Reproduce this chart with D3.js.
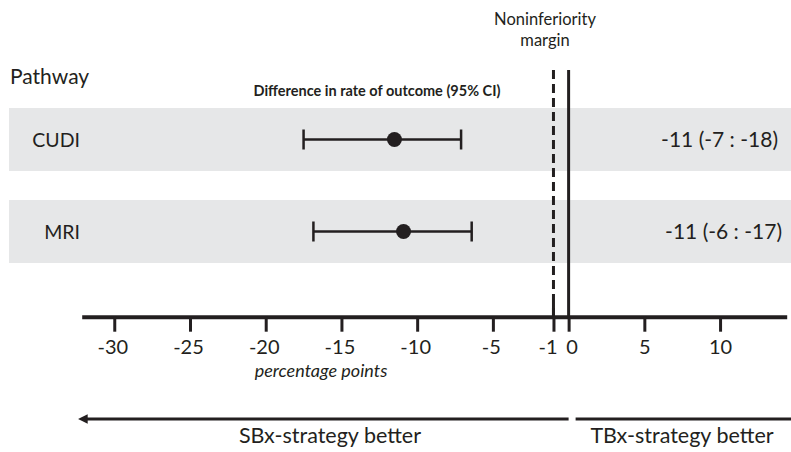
<!DOCTYPE html>
<html>
<head>
<meta charset="utf-8">
<script src="https://cdn.jsdelivr.net/npm/d3@7"></script>
<style>
  html, body { margin: 0; padding: 0; background: #fff; }
  svg { display: block; font-family: Lato, "Open Sans", sans-serif; }
</style>
</head>
<body>
<svg id="chart" width="791" height="452"></svg>
<script>
// ---- data ----
const pathways = ["CUDI", "MRI"];
const estimates = [-11.5, -10.9];
const lowerCI = [-17.5, -16.85];
const upperCI = [-7.1, -6.4];
const ciLabels = ["-11 (-7 : -18)", "-11 (-6 : -17)"];
const tickValues = [-30, -25, -20, -15, -10, -5, -1, 0, 5, 10];
const margin = -1;
const axisDomain = [-32.15, 14.4];

// ---- layout ----
const ink = "#231f20";
const svg = d3.select("#chart");
const W = 791;
const axisY = 316.7;

const x = d3.scaleLinear().domain(axisDomain).range([81.7, 786.7]);
const y = d3.scaleBand().domain(pathways).range([108, 263]).paddingInner(29 / 92).paddingOuter(0);
const rowY = d => y(d);
const rowH = y.bandwidth();

// gray bands
svg.append("g").selectAll("rect").data(pathways).join("rect")
  .attr("x", 9).attr("y", d => rowY(d)).attr("width", W - 9).attr("height", rowH)
  .attr("fill", "#e6e7e8");

// headers
svg.append("text").attr("x", 10).attr("y", 84).attr("font-size", 21).attr("fill", ink).text("Pathway");
svg.append("text").attr("x", 377).attr("y", 96).attr("text-anchor", "middle")
  .attr("font-size", 14.5).attr("font-weight", "bold").attr("fill", ink)
  .text("Difference in rate of outcome (95% CI)");
svg.append("text").attr("x", 545).attr("y", 25).attr("text-anchor", "middle")
  .attr("font-size", 16.5).attr("fill", ink).text("Noninferiority");
svg.append("text").attr("x", 545).attr("y", 46).attr("text-anchor", "middle")
  .attr("font-size", 16.5).attr("fill", ink).text("margin");

// reference lines
svg.append("line").attr("x1", x(margin)).attr("x2", x(margin)).attr("y1", 70).attr("y2", axisY)
  .attr("stroke", ink).attr("stroke-width", 3).attr("stroke-dasharray", "9,5");
svg.append("line").attr("x1", x(0)).attr("x2", x(0)).attr("y1", 70).attr("y2", axisY)
  .attr("stroke", ink).attr("stroke-width", 3);
svg.append("line").attr("x1", x(margin)).attr("x2", x(margin)).attr("y1", 303).attr("y2", axisY)
  .attr("stroke", ink).attr("stroke-width", 3);

// row labels
const rows = svg.append("g").selectAll("g").data(pathways).join("g")
  .attr("transform", d => `translate(0,${rowY(d) + rowH / 2})`);
rows.append("text").attr("x", 80).attr("y", 7).attr("text-anchor", "end")
  .attr("font-size", 19.5).attr("fill", ink).text(d => d);
rows.append("text").attr("x", (d, i) => i === 0 ? 778 : 782).attr("y", 7).attr("text-anchor", "end")
  .attr("font-size", 21).attr("fill", ink).text((d, i) => ciLabels[i]);

// CI lines
rows.append("line").attr("x1", (d, i) => x(lowerCI[i])).attr("x2", (d, i) => x(upperCI[i]))
  .attr("y1", 0).attr("y2", 0).attr("stroke", ink).attr("stroke-width", 2.5);
rows.append("line").attr("x1", (d, i) => x(lowerCI[i])).attr("x2", (d, i) => x(lowerCI[i]))
  .attr("y1", -10).attr("y2", 10).attr("stroke", ink).attr("stroke-width", 2.5);
rows.append("line").attr("x1", (d, i) => x(upperCI[i])).attr("x2", (d, i) => x(upperCI[i]))
  .attr("y1", -10).attr("y2", 10).attr("stroke", ink).attr("stroke-width", 2.5);
rows.append("circle").attr("cx", (d, i) => x(estimates[i])).attr("cy", 0).attr("r", 7.5).attr("fill", ink);

// axis
const axis = d3.axisBottom(x).tickValues(tickValues).tickSize(15).tickSizeOuter(0)
  .tickFormat(d => d < 0 ? "-" + Math.abs(d) : String(d));
const gAxis = svg.append("g").attr("transform", `translate(0,${axisY})`).call(axis);
gAxis.select(".domain").attr("stroke", ink).attr("stroke-width", 4);
gAxis.selectAll(".tick line").attr("stroke", ink).attr("stroke-width", 3);
gAxis.selectAll(".tick text").attr("fill", ink).attr("font-size", 20)
  .attr("font-family", "Lato, sans-serif").attr("y", 23)
  .attr("dx", d => d === -1 ? -6 : (d === 0 ? 3 : (d < 0 ? -2 : 0)));

svg.append("text").attr("x", 321).attr("y", 377).attr("text-anchor", "middle")
  .attr("font-size", 18).attr("font-style", "italic").attr("fill", ink).text("percentage points");

// bottom arrows
const arrowY = 419;
svg.append("defs").append("marker").attr("id", "ah").attr("viewBox", "0 0 10 10")
  .attr("refX", 1).attr("refY", 5).attr("markerWidth", 3.2).attr("markerHeight", 3.2)
  .attr("orient", "auto-start-reverse")
  .append("path").attr("d", "M0,0 L10,5 L0,10 Z").attr("fill", ink);
svg.append("line").attr("x1", x(0)).attr("x2", x(axisDomain[0]) + 5).attr("y1", arrowY).attr("y2", arrowY)
  .attr("stroke", ink).attr("stroke-width", 3).attr("marker-end", "url(#ah)");
svg.append("line").attr("x1", x(0) + 7).attr("x2", W).attr("y1", arrowY).attr("y2", arrowY)
  .attr("stroke", ink).attr("stroke-width", 3);

svg.append("text").attr("x", 330).attr("y", 443).attr("text-anchor", "middle")
  .attr("font-size", 21.5).attr("fill", ink).text("SBx-strategy better");
svg.append("text").attr("x", 682).attr("y", 443).attr("text-anchor", "middle")
  .attr("font-size", 21.5).attr("fill", ink).text("TBx-strategy better");
</script>
</body>
</html>
